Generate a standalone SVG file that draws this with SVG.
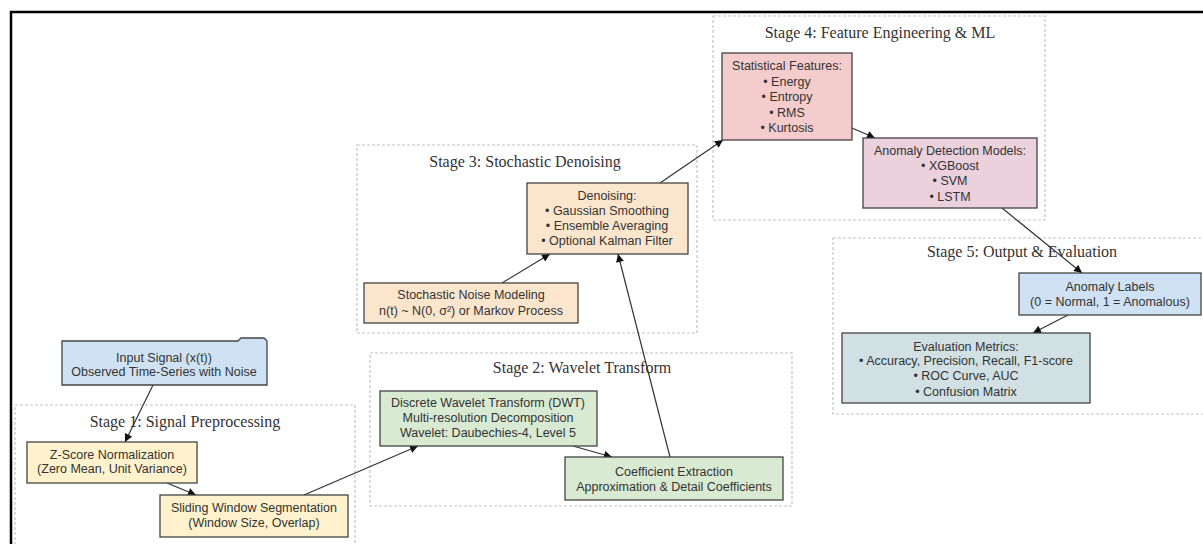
<svg xmlns="http://www.w3.org/2000/svg" width="1203" height="544" viewBox="0 0 1203 544">
<style>
.cl{fill:none;stroke:#c4c4c4;stroke-width:1.2;stroke-dasharray:3,2}
.ct{font-family:"Liberation Serif",serif;font-size:16px;fill:#333;text-anchor:middle}
.nd{stroke:#444;stroke-width:1.3}
.nt{font-family:"Liberation Sans",Arial,sans-serif;font-size:12.5px;fill:#333;text-anchor:middle}
.e{stroke:#333;stroke-width:1.2;fill:none;marker-end:url(#ah)}
</style>
<defs>
<marker id="ah" viewBox="0 0 10 10" refX="10" refY="5" markerWidth="10" markerHeight="8" markerUnits="userSpaceOnUse" orient="auto">
<path d="M0,0 L10,5 L0,10 z" fill="#111"/>
</marker>
</defs>
<rect width="1203" height="544" fill="#fff"/>
<path d="M11,544 V12 H1203" fill="none" stroke="#000" stroke-width="2.5"/>

<g id="clusters">
<g id="stage1"><rect class="cl" x="15" y="405" width="340" height="160"/><text class="ct" x="185" y="427">Stage 1: Signal Preprocessing</text></g>
<g id="stage2"><rect class="cl" x="370" y="353" width="422" height="153"/><text class="ct" x="582" y="373">Stage 2: Wavelet Transform</text></g>
<g id="stage3"><rect class="cl" x="357" y="145" width="340" height="188"/><text class="ct" x="525" y="167">Stage 3: Stochastic Denoising</text></g>
<g id="stage4"><rect class="cl" x="713" y="16" width="332" height="204"/><text class="ct" x="880" y="38">Stage 4: Feature Engineering &amp; ML</text></g>
<g id="stage5"><rect class="cl" x="833" y="238" width="380" height="176"/><text class="ct" x="1022" y="257">Stage 5: Output &amp; Evaluation</text></g>
</g>

<g id="connectors">
<line class="e" x1="153" y1="385" x2="125" y2="442"/>
<line class="e" x1="167" y1="483" x2="196" y2="495"/>
<line class="e" x1="304" y1="495" x2="418" y2="446"/>
<line class="e" x1="573" y1="446" x2="612" y2="457"/>
<line class="e" x1="670" y1="457" x2="618" y2="254"/>
<line class="e" x1="502" y1="283" x2="550" y2="254"/>
<line class="e" x1="660" y1="183" x2="723" y2="140"/>
<line class="e" x1="852" y1="128" x2="875" y2="138"/>
<line class="e" x1="1002" y1="208" x2="1082" y2="273"/>
<line class="e" x1="1068" y1="315" x2="1033" y2="333"/>
</g>

<g id="input">
<path class="nd" fill="#cfe2f3" d="M62,341 H238 L241,338 H264 L267,341 V385 H62 Z"/>
<text class="nt" x="164" y="362">Input Signal (x(t))</text>
<text class="nt" x="164" y="376">Observed Time-Series with Noise</text>
</g>
<g id="zscore">
<rect class="nd" fill="#fff2cc" x="27" y="442" width="170" height="41"/>
<text class="nt" x="112" y="459">Z-Score Normalization</text>
<text class="nt" x="112" y="473">(Zero Mean, Unit Variance)</text>
</g>
<g id="sliding">
<rect class="nd" fill="#fff2cc" x="160" y="495" width="188" height="42"/>
<text class="nt" x="254" y="512">Sliding Window Segmentation</text>
<text class="nt" x="254" y="527">(Window Size, Overlap)</text>
</g>
<g id="dwt">
<rect class="nd" fill="#d9ead3" x="380" y="391" width="217" height="55"/>
<text class="nt" x="488" y="407">Discrete Wavelet Transform (DWT)</text>
<text class="nt" x="488" y="422">Multi-resolution Decomposition</text>
<text class="nt" x="488" y="437">Wavelet: Daubechies-4, Level 5</text>
</g>
<g id="coef">
<rect class="nd" fill="#d9ead3" x="565" y="457" width="218" height="43"/>
<text class="nt" x="674" y="476">Coefficient Extraction</text>
<text class="nt" x="674" y="491">Approximation &amp; Detail Coefficients</text>
</g>
<g id="noise">
<rect class="nd" fill="#fce5cd" x="364" y="283" width="214" height="40"/>
<text class="nt" x="471" y="299">Stochastic Noise Modeling</text>
<text class="nt" x="471" y="315">n(t) ~ N(0, σ²) or Markov Process</text>
</g>
<g id="denoise">
<rect class="nd" fill="#fce5cd" x="527" y="183" width="161" height="71"/>
<text class="nt" x="607" y="200">Denoising:</text>
<text class="nt" x="607" y="215">• Gaussian Smoothing</text>
<text class="nt" x="607" y="230">• Ensemble Averaging</text>
<text class="nt" x="607" y="245">• Optional Kalman Filter</text>
</g>
<g id="stats">
<rect class="nd" fill="#f4cccc" x="722" y="53" width="130" height="87"/>
<text class="nt" x="787" y="70">Statistical Features:</text>
<text class="nt" x="787" y="86">• Energy</text>
<text class="nt" x="787" y="101">• Entropy</text>
<text class="nt" x="787" y="117">• RMS</text>
<text class="nt" x="787" y="132">• Kurtosis</text>
</g>
<g id="models">
<rect class="nd" fill="#ead1dc" x="863" y="138" width="174" height="70"/>
<text class="nt" x="950" y="155">Anomaly Detection Models:</text>
<text class="nt" x="950" y="170">• XGBoost</text>
<text class="nt" x="950" y="185">• SVM</text>
<text class="nt" x="950" y="201">• LSTM</text>
</g>
<g id="labels">
<rect class="nd" fill="#cfe2f3" x="1019" y="273" width="182" height="42"/>
<text class="nt" x="1110" y="291">Anomaly Labels</text>
<text class="nt" x="1110" y="306">(0 = Normal, 1 = Anomalous)</text>
</g>
<g id="metrics">
<rect class="nd" fill="#d0e0e3" x="842" y="333" width="248" height="70"/>
<text class="nt" x="966" y="351">Evaluation Metrics:</text>
<text class="nt" x="966" y="365">• Accuracy, Precision, Recall, F1-score</text>
<text class="nt" x="966" y="380">• ROC Curve, AUC</text>
<text class="nt" x="966" y="396">• Confusion Matrix</text>
</g>
</svg>
